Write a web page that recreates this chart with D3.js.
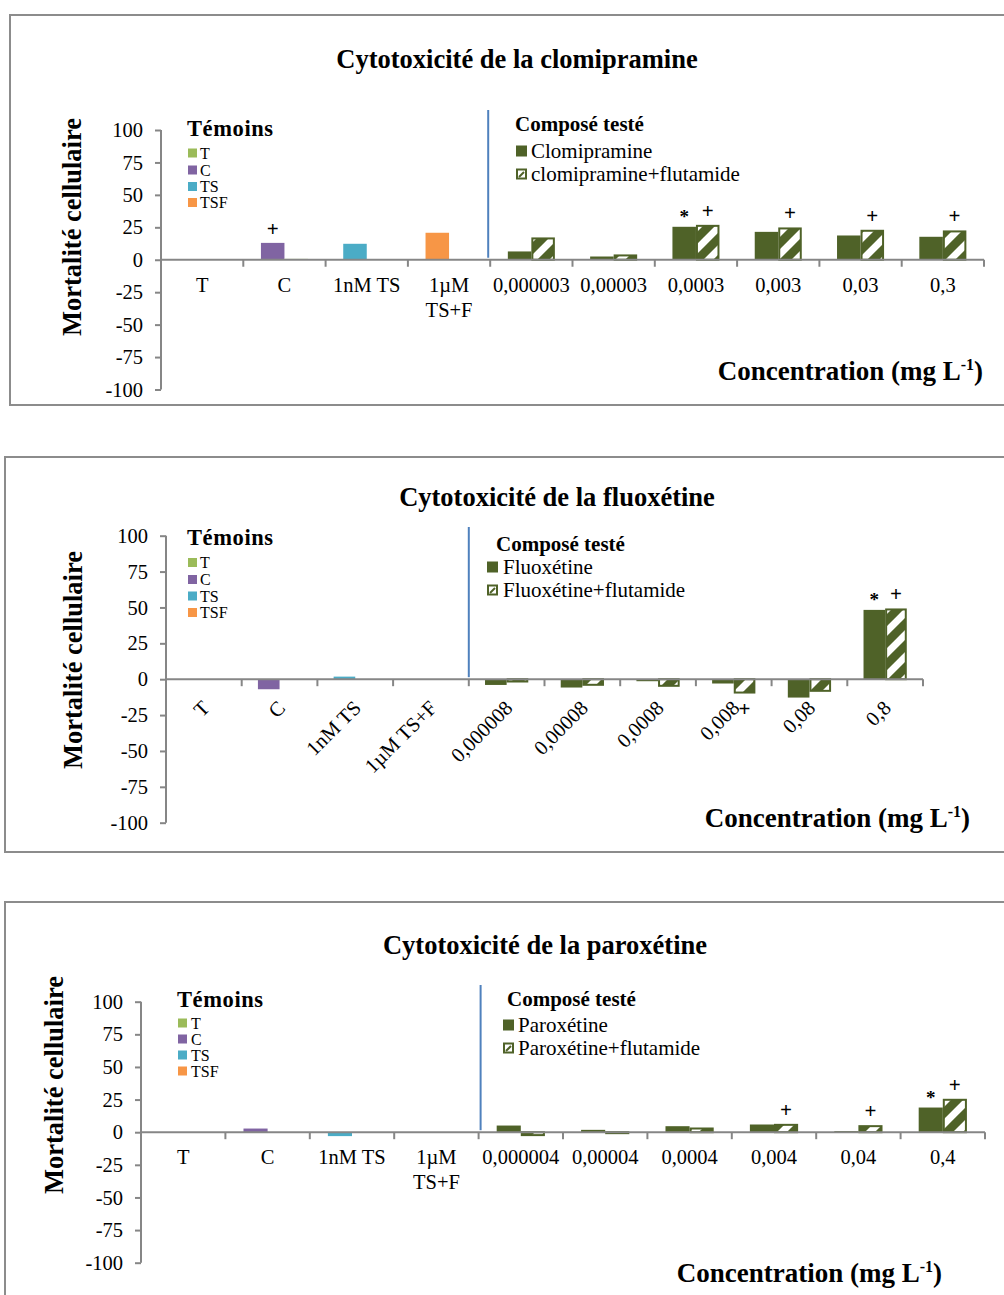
<!DOCTYPE html>
<html>
<head>
<meta charset="utf-8">
<script src="https://cdn.jsdelivr.net/npm/d3@7"></script>
<style>
  html, body { margin: 0; padding: 0; background: #fff; }
  svg { display: block; }
  text { font-family: "Liberation Serif", "Times New Roman", serif; fill: #000; }
</style>
</head>
<body>
<svg id="chart" width="1004" height="1295"></svg>
<script>
// ---------------- DATA ----------------
const yTicks = [100, 75, 50, 25, 0, -25, -50, -75, -100];
const controlLabels = ["T", "C", "1nM TS", "1µM TS+F"];
const controlLegend = ["T", "C", "TS", "TSF"];

// Clomipramine
const clomiConcentrations = ["0,000003", "0,00003", "0,0003", "0,003", "0,03", "0,3"];
const clomiControls = [0, 13, 12.3, 20.8];
const clomiControlsSecond = [0, 0.8, 0, 0];
const clomiControlMarks = ["", "+", "", ""];
const clomiAlone = [6.4, 2.5, 25.4, 21.5, 18.7, 17.7];
const clomiWithFlutamide = [17.2, 4.1, 26.9, 24.9, 23.1, 22.6];
const clomiAloneMarks = ["", "", "*", "", "", ""];
const clomiFlutMarks = ["", "", "+", "+", "+", "+"];

// Fluoxetine
const fluoConcentrations = ["0,000008", "0,00008", "0,0008", "0,008", "0,08", "0,8"];
const fluoControls = [0, -7, 1.8, 0];
const fluoControlsSecond = [0, 0, 0, 0];
const fluoControlMarks = ["", "", "", ""];
const fluoAlone = [-4, -5.8, -1.4, -3, -12.8, 48.3];
const fluoWithFlutamide = [-2.3, -4.6, -5.3, -10, -8.8, 49.3];
const fluoAloneMarks = ["", "", "", "", "", "*"];
const fluoFlutMarks = ["", "", "", "+", "", "+"];

// Paroxetine
const paroConcentrations = ["0,000004", "0,00004", "0,0004", "0,004", "0,04", "0,4"];
const paroControls = [0, 2.8, -3, 0];
const paroControlsSecond = [0, 0, 0, 0];
const paroControlMarks = ["", "", "", ""];
const paroAlone = [5.1, 1.8, 4.6, 5.9, 0.8, 18.9];
const paroWithFlutamide = [-3, -1.5, 3.6, 6.4, 5.4, 25.6];
const paroAloneMarks = ["", "", "", "", "", "*"];
const paroFlutMarks = ["", "", "", "+", "+", "+"];

// ---------------- STYLES ----------------
const controlColors = ["#9BBB59", "#8064A2", "#4BACC6", "#F79646"];
const controlSecondColor = "#D7E4BD";
const darkGreen = "#4F6228";
const axisGray = "#868686";
const frameGray = "#8C8C8C";
const sepBlue = "#4F81BD";

const svg = d3.select("#chart");
const defs = svg.append("defs");
const P = 22;
const pat = defs.append("pattern")
  .attr("id", "hatch").attr("patternUnits", "userSpaceOnUse")
  .attr("width", P).attr("height", P);
pat.append("rect").attr("width", P).attr("height", P).attr("fill", darkGreen);
pat.append("path")
  .attr("d", `M${-P/2},${P/2} L${P/2},${-P/2} M0,${P} L${P},0 M${P/2},${3*P/2} L${3*P/2},${P/2}`)
  .attr("stroke", "#fff").attr("stroke-width", 7);

function drawPanel(cfg) {
  const g = svg.append("g");
  // frame
  g.append("rect")
    .attr("x", cfg.frame.x).attr("y", cfg.frame.y)
    .attr("width", cfg.frame.w).attr("height", cfg.frame.h)
    .attr("fill", "none").attr("stroke", frameGray).attr("stroke-width", 2);

  const categories = controlLabels.concat(cfg.concentrations);
  const x = d3.scaleBand().domain(categories).range([cfg.x0, cfg.x1]);
  const y = d3.scaleLinear().domain([-100, 100]).range([cfg.yBottom, cfg.yTop]);
  const inner = d3.scaleBand().domain([0, 1]).range([0, x.bandwidth()]).paddingInner(0).paddingOuter(0.75);
  const bw = inner.bandwidth();

  // title
  g.append("text").attr("x", cfg.titleX).attr("y", cfg.titleY)
    .attr("text-anchor", "middle").attr("font-weight", "bold").attr("font-size", 26.5)
    .text(cfg.title);

  // y label
  g.append("text")
    .attr("transform", `translate(${cfg.yLabelX},${cfg.yLabelY}) rotate(-90)`)
    .attr("text-anchor", "middle").attr("dy", "0.35em")
    .attr("font-weight", "bold").attr("font-size", 26.5)
    .text("Mortalité cellulaire");

  // y axis
  const yAxis = g.append("g").attr("transform", `translate(${cfg.x0},0)`)
    .call(d3.axisLeft(y).tickValues(yTicks).tickSize(6).tickPadding(12).tickFormat(d => String(d)));
  yAxis.select(".domain").attr("stroke", axisGray).attr("stroke-width", 2).attr("d", `M0,${y(100)}V${y(-100)}`);
  yAxis.selectAll(".tick line").attr("stroke", axisGray).attr("stroke-width", 2);
  yAxis.selectAll(".tick text").attr("font-family", "Liberation Serif").attr("font-size", 20.5).attr("fill", "#000");

  // separator blue line
  const sepX = x(cfg.concentrations[0]) + cfg.sepDx;
  g.append("line").attr("x1", sepX).attr("x2", sepX)
    .attr("y1", cfg.sepTop).attr("y2", y(0) - 2)
    .attr("stroke", sepBlue).attr("stroke-width", 2);

  const zero = y(0);
  // control bars (first slot)
  const controlData = controlLabels.map((c, i) => ({ cat: c, v: cfg.controls[i], color: controlColors[i], mark: cfg.controlMarks[i] }));
  g.selectAll(".ctrl").data(controlData).join("rect")
    .attr("x", d => x(d.cat) + inner(0)).attr("width", bw)
    .attr("y", d => Math.min(y(d.v), zero)).attr("height", d => Math.abs(y(d.v) - zero))
    .attr("fill", d => d.color);
  const controlSecondData = controlLabels.map((c, i) => ({ cat: c, v: cfg.controlsSecond[i] }));
  g.selectAll(".ctrl2").data(controlSecondData).join("rect")
    .attr("x", d => x(d.cat) + inner(1)).attr("width", bw)
    .attr("y", d => Math.min(y(d.v), zero)).attr("height", d => Math.abs(y(d.v) - zero))
    .attr("fill", controlSecondColor);

  // compound bars
  const aloneData = cfg.concentrations.map((c, i) => ({ cat: c, v: cfg.alone[i], mark: cfg.aloneMarks[i] }));
  const flutData = cfg.concentrations.map((c, i) => ({ cat: c, v: cfg.flut[i], mark: cfg.flutMarks[i] }));
  g.selectAll(".alone").data(aloneData).join("rect")
    .attr("x", d => x(d.cat) + inner(0)).attr("width", bw)
    .attr("y", d => Math.min(y(d.v), zero)).attr("height", d => Math.abs(y(d.v) - zero))
    .attr("fill", darkGreen);
  g.selectAll(".flut").data(flutData).join("rect")
    .attr("x", d => x(d.cat) + inner(1) + 1).attr("width", bw - 2)
    .attr("y", d => Math.min(y(d.v), zero) + (d.v >= 0 ? 1 : 0))
    .attr("height", d => Math.max(0, Math.abs(y(d.v) - zero) - 1))
    .attr("fill", "url(#hatch)").attr("stroke", darkGreen).attr("stroke-width", 2);

  // x axis line + boundary ticks
  g.append("line").attr("x1", cfg.x0).attr("x2", cfg.x1).attr("y1", zero).attr("y2", zero)
    .attr("stroke", axisGray).attr("stroke-width", 2);
  const bounds = categories.map(c => x(c)).concat([cfg.x1]);
  g.selectAll(".xt").data(bounds).join("line")
    .attr("x1", d => d).attr("x2", d => d).attr("y1", zero).attr("y2", zero + 7)
    .attr("stroke", axisGray).attr("stroke-width", 2);

  // x labels
  if (!cfg.rotate) {
    const lab = g.selectAll(".xl").data(categories).join("text")
      .attr("text-anchor", "middle").attr("font-size", 20.5)
      .attr("transform", d => `translate(${x(d) + x.bandwidth() / 2},${zero + 32})`);
    lab.each(function (d) {
      const parts = d === "1µM TS+F" ? ["1µM", "TS+F"] : [d];
      d3.select(this).selectAll("tspan").data(parts).join("tspan")
        .attr("x", 0).attr("dy", (p, i) => i === 0 ? 0 : 25).text(p => p);
    });
  } else {
    g.selectAll(".xl").data(categories).join("text")
      .attr("text-anchor", "end").attr("font-size", 20.5)
      .attr("transform", d => `translate(${x(d) + x.bandwidth() / 2 + 7},${zero + 30}) rotate(-45)`)
      .text(d => d);
  }

  // significance marks
  const allMarks = []
    .concat(controlData.map(d => ({ cx: x(d.cat) + inner(0) + bw / 2, v: d.v, m: d.mark })))
    .concat(aloneData.map(d => ({ cx: x(d.cat) + inner(0) + bw / 2, v: d.v, m: d.mark })))
    .concat(flutData.map(d => ({ cx: x(d.cat) + inner(1) + bw / 2, v: d.v, m: d.mark })))
    .filter(d => d.m);
  g.selectAll(".mk").data(allMarks).join("text")
    .attr("x", d => d.cx).attr("text-anchor", "middle")
    .attr("y", d => d.v >= 0 ? y(d.v) - (d.m === "*" ? 4 : 7) : y(d.v) + 22)
    .attr("font-family", "Liberation Sans").attr("font-weight", "bold")
    .attr("font-size", d => d.m === "*" ? 19 : 21)
    .text(d => d.m);

  // legend: Témoins
  const lt = cfg.legT;
  g.append("text").attr("x", lt.x).attr("y", lt.titleY).attr("dy", "0.35em")
    .attr("font-weight", "bold").attr("font-size", 22.5).attr("letter-spacing", 0.6).text("Témoins");
  const items = g.selectAll(".lt").data(controlLegend).join("g")
    .attr("transform", (d, i) => `translate(${lt.x},${lt.rowY[i]})`);
  items.append("rect").attr("x", 1).attr("y", -4.5).attr("width", 9).attr("height", 9)
    .attr("fill", (d, i) => controlColors[i]);
  items.append("text").attr("x", lt.textDx).attr("dy", "0.35em").attr("font-size", 16).text(d => d);

  // legend: Composé testé
  const lc = cfg.legC;
  g.append("text").attr("x", lc.titleX).attr("y", lc.titleY).attr("dy", "0.35em")
    .attr("font-weight", "bold").attr("font-size", 21).text("Composé testé");
  g.append("rect").attr("x", lc.sqX).attr("y", lc.row1 - 5.5).attr("width", 11).attr("height", 11).attr("fill", darkGreen);
  g.append("text").attr("x", lc.textX).attr("y", lc.row1).attr("dy", "0.35em").attr("font-size", 21).text(cfg.names[0]);
  g.append("rect").attr("x", lc.sqX + 1).attr("y", lc.row2 - 4.5).attr("width", 9).attr("height", 9)
    .attr("fill", "#fff").attr("stroke", darkGreen).attr("stroke-width", 2);
  g.append("path").attr("d", `M${lc.sqX + 3},${lc.row2 + 3} L${lc.sqX + 8},${lc.row2 - 2}`)
    .attr("stroke", darkGreen).attr("stroke-width", 2);
  g.append("text").attr("x", lc.textX).attr("y", lc.row2).attr("dy", "0.35em").attr("font-size", 21).text(cfg.names[1]);

  // x title
  const xt = g.append("text").attr("x", cfg.xTitleX).attr("y", cfg.xTitleY)
    .attr("text-anchor", "end").attr("font-weight", "bold").attr("font-size", 27);
  xt.append("tspan").text("Concentration (mg L");
  xt.append("tspan").attr("font-size", 16).attr("dy", -10).text("-1");
  xt.append("tspan").attr("dy", 10).text(")");
}

drawPanel({
  title: "Cytotoxicité de la clomipramine",
  names: ["Clomipramine", "clomipramine+flutamide"],
  concentrations: clomiConcentrations, controls: clomiControls, controlsSecond: clomiControlsSecond,
  controlMarks: clomiControlMarks, alone: clomiAlone, flut: clomiWithFlutamide,
  aloneMarks: clomiAloneMarks, flutMarks: clomiFlutMarks,
  frame: { x: 10, y: 15, w: 1010, h: 390 },
  x0: 161, x1: 984, yTop: 130, yBottom: 389.5,
  titleX: 517, titleY: 68, yLabelX: 72, yLabelY: 227,
  sepDx: -2, sepTop: 110, rotate: false,
  legT: { x: 187, titleY: 128, rowY: [153, 170, 186.5, 202.5], textDx: 13 },
  legC: { titleX: 515, titleY: 124, sqX: 516, textX: 531, row1: 151, row2: 174 },
  xTitleX: 983, xTitleY: 380
});

drawPanel({
  title: "Cytotoxicité de la fluoxétine",
  names: ["Fluoxétine", "Fluoxétine+flutamide"],
  concentrations: fluoConcentrations, controls: fluoControls, controlsSecond: fluoControlsSecond,
  controlMarks: fluoControlMarks, alone: fluoAlone, flut: fluoWithFlutamide,
  aloneMarks: fluoAloneMarks, flutMarks: fluoFlutMarks,
  frame: { x: 5, y: 457, w: 1010, h: 395 },
  x0: 166, x1: 923, yTop: 535.7, yBottom: 822.7,
  titleX: 557, titleY: 506, yLabelX: 73, yLabelY: 660,
  sepDx: 0, sepTop: 527, rotate: true,
  legT: { x: 187, titleY: 537, rowY: [562.5, 579.5, 596, 612.5], textDx: 13 },
  legC: { titleX: 496, titleY: 544, sqX: 487, textX: 503, row1: 567, row2: 590 },
  xTitleX: 970, xTitleY: 827
});

drawPanel({
  title: "Cytotoxicité de la paroxétine",
  names: ["Paroxétine", "Paroxétine+flutamide"],
  concentrations: paroConcentrations, controls: paroControls, controlsSecond: paroControlsSecond,
  controlMarks: paroControlMarks, alone: paroAlone, flut: paroWithFlutamide,
  aloneMarks: paroAloneMarks, flutMarks: paroFlutMarks,
  frame: { x: 5, y: 902, w: 1010, h: 420 },
  x0: 141, x1: 985, yTop: 1001.7, yBottom: 1262.7,
  titleX: 545, titleY: 954, yLabelX: 54, yLabelY: 1085,
  sepDx: 2, sepTop: 985, rotate: false,
  legT: { x: 177, titleY: 999, rowY: [1023, 1039, 1055, 1071], textDx: 14 },
  legC: { titleX: 507, titleY: 999, sqX: 503, textX: 518, row1: 1025, row2: 1048 },
  xTitleX: 942, xTitleY: 1282
});
</script>
</body>
</html>
